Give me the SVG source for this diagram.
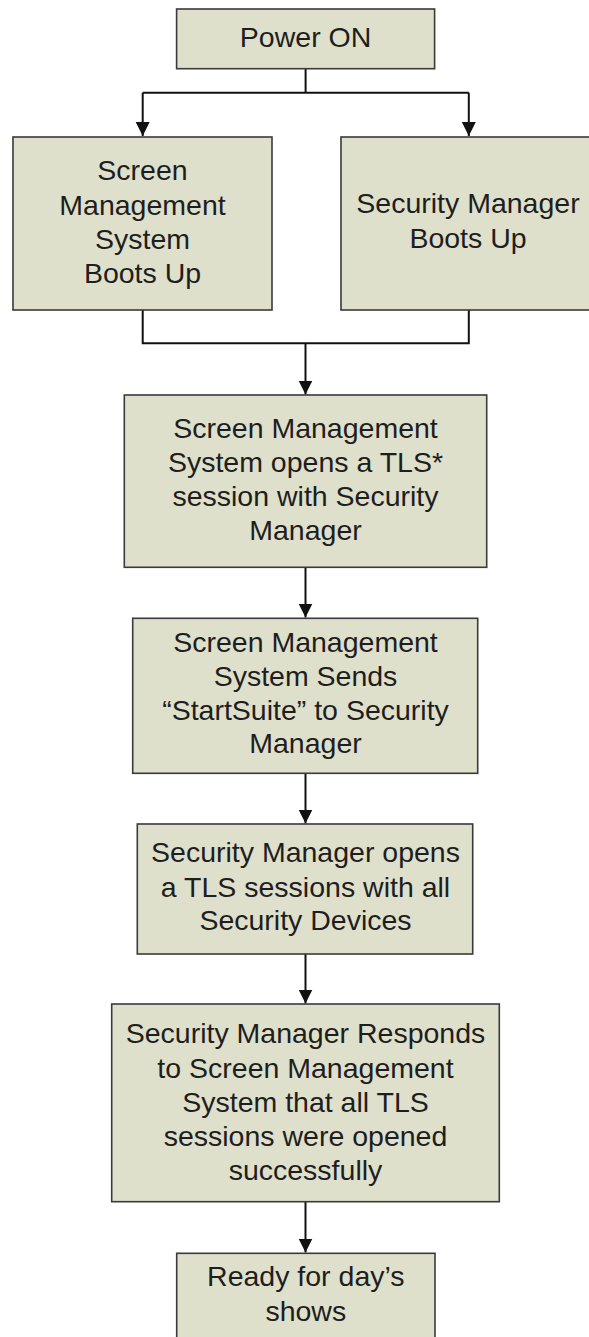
<svg xmlns="http://www.w3.org/2000/svg" width="589" height="1337" viewBox="0 0 589 1337">
<style>
.box{fill:#dee0cb;stroke:#3a3a3a;stroke-width:1.6}
.t{font-family:"Liberation Sans",Arial,sans-serif;font-size:28.5px;fill:#1e1e1e;text-anchor:middle}
.c{fill:none;stroke:#111;stroke-width:2}
</style>
<defs>
<marker id="ah" markerUnits="userSpaceOnUse" markerWidth="14" markerHeight="16" refX="14" refY="7" orient="auto">
<path d="M0,0 L14,7 L0,14 Z" fill="#111"/>
</marker>
</defs>
<rect width="589" height="1337" fill="#ffffff"/>
<g id="connectors">
<path class="c" d="M305.6,68.7 V92.7 M142.7,92.7 H468.8"/>
<path class="c" d="M142.7,92.7 V136" marker-end="url(#ah)"/>
<path class="c" d="M468.8,92.7 V136" marker-end="url(#ah)"/>
<path class="c" d="M142.7,310 V343.3 H468.8 V310"/>
<path class="c" d="M305.5,343.3 V394.5" marker-end="url(#ah)"/>
<path class="c" d="M305.5,567.3 V617.5" marker-end="url(#ah)"/>
<path class="c" d="M305.5,773.3 V823.5" marker-end="url(#ah)"/>
<path class="c" d="M305.5,954 V1003.5" marker-end="url(#ah)"/>
<path class="c" d="M305.5,1201.7 V1252.5" marker-end="url(#ah)"/>
</g>
<g id="power-on">
<rect class="box" x="176.6" y="9" width="258" height="59.7"/>
<text class="t" x="305.6" y="46.7">Power ON</text>
</g>
<g id="sms-boots">
<rect class="box" x="13" y="137" width="259" height="173"/>
<text class="t" x="142.5" y="180">Screen</text>
<text class="t" x="142.5" y="214.5">Management</text>
<text class="t" x="142.5" y="248.5">System</text>
<text class="t" x="142.5" y="282.7">Boots Up</text>
</g>
<g id="sm-boots">
<rect class="box" x="341" y="137" width="256" height="173"/>
<text class="t" x="468" y="213.3">Security Manager</text>
<text class="t" x="468" y="248.3">Boots Up</text>
</g>
<g id="tls-open">
<rect class="box" x="124.3" y="395" width="362.4" height="172.3"/>
<text class="t" x="305.5" y="438.3">Screen Management</text>
<text class="t" x="305.5" y="472">System opens a TLS*</text>
<text class="t" x="305.5" y="506">session with Security</text>
<text class="t" x="305.5" y="539.5">Manager</text>
</g>
<g id="startsuite">
<rect class="box" x="132.7" y="618.3" width="345" height="155"/>
<text class="t" x="305.5" y="651.7">Screen Management</text>
<text class="t" x="305.5" y="685.5">System Sends</text>
<text class="t" x="305.5" y="720">“StartSuite” to Security</text>
<text class="t" x="305.5" y="753">Manager</text>
</g>
<g id="sm-opens">
<rect class="box" x="137.3" y="824" width="335.4" height="130"/>
<text class="t" x="305.5" y="862">Security Manager opens</text>
<text class="t" x="305.5" y="896.7">a TLS sessions with all</text>
<text class="t" x="305.5" y="930">Security Devices</text>
</g>
<g id="sm-responds">
<rect class="box" x="111.7" y="1004" width="387.6" height="197.7"/>
<text class="t" x="305.5" y="1042.7">Security Manager Responds</text>
<text class="t" x="305.5" y="1077.5">to Screen Management</text>
<text class="t" x="305.5" y="1111.7">System that all TLS</text>
<text class="t" x="305.5" y="1146">sessions were opened</text>
<text class="t" x="305.5" y="1180">successfully</text>
</g>
<g id="ready">
<rect class="box" x="176.7" y="1253.3" width="258.3" height="100"/>
<text class="t" x="305.8" y="1285.5">Ready for day’s</text>
<text class="t" x="305.8" y="1320.7">shows</text>
</g>
</svg>
